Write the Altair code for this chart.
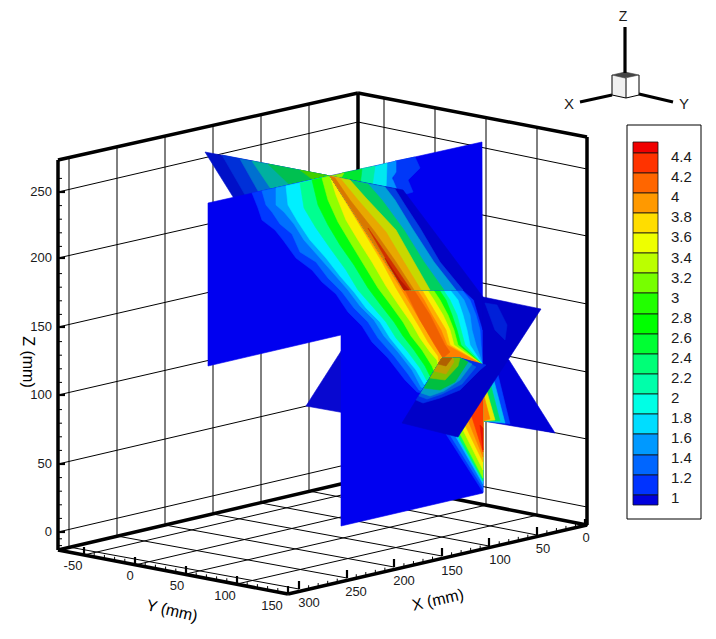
import altair as alt
import pandas as pd

# ---------- contour levels (legend) ----------
legend_labels = ["4.4","4.2","4","3.8","3.6","3.4","3.2","3","2.8","2.6","2.4","2.2","2","1.8","1.6","1.4","1.2","1"]
legend_label_y = [157,177,197,217,237,258,278,298,318,338,358,378,398,418,438,458,478,498]
legend_edges = [142,153,173,193,213,233,253,273,293,314,334,354,374,394,414,434,455,475,495,505]
legend_colors = ["#F00000","#FF3300","#FF6600","#FF9900","#FFDD00","#EEFF00","#BBFF00","#77FF00","#22FF00",
                 "#00FF00","#00FF33","#00FF77","#00FFAA","#00FFE5","#00DDFF","#0099FF","#0066FF","#0033FF","#0000DC"]

# ---------- axis readings ----------
z_ticks = ["0","50","100","150","200","250"]
z_left_y = [532,464,395,327,258,192]
z_back_y = [462,394,326,258,190,122]
z_right_y = [507,439,372,304,236,169]
y_tick_labels = ["-50","0","50","100","150"]
y_tick_x = [84,135,186,237,288]
y_tick_y = [555,565,574,584,594]
y_label_x = [73,130,177,225,272]
y_label_y = [566,576,586,596,606]
y_wall_x = [384,435,486,537,588]
x_tick_labels = ["0","50","100","150","200","250","300"]
x_tick_x = [585,537,489,442,394,347,299]
x_tick_y = [527,535,546,556,567,578,589]
x_label_x = [586,543,500,452,404,356,309]
x_label_y = [538,549,560,571,581,592,603]
x_foot_x = [358,309,261,213,165,117,69]
x_foot_y = [480,491,503,514,525,536,547]

BOX_THICK = [
    [(58,160),(358,93)], [(358,93),(587,137)], [(58,160),(58,550)], [(587,137),(587,525)],
    [(358,93),(358,480)], [(58,550),(358,480)], [(358,480),(587,525)], [(58,550),(288,594)], [(288,594),(587,525)],
]

# ---------- surfaces, painted back to front ----------
C = dict(a="#0038FF", b="#0070FF", c="#00A8FF", d="#00F0FF", e="#00FF90", f="#00FF10", g="#90FF00",
         h="#F8F000", i="#FFB000", j="#FF8000", k="#F06000", l="#FF3000", m="#E01000")
polys = []
polys += [("#0808D0", [(306,406),(345,345),(345,413)])]
polys += [("#0010C8", [(205,152),(330,176),(330,185),(240,208)]),
          ("#0030D8", [(222,155),(330,176),(330,185),(248,200)]),
          ("#0070D0", [(240,159),(330,176),(330,185),(262,198)]),
          ("#00B0A0", [(252,161),(330,176),(330,185),(275,195)]),
          ("#00C050", [(268,164),(330,176),(330,185),(295,190)]),
          ("#40D000", [(300,170),(330,176),(330,180),(320,185)])]
polys += [("#0000D8", [(483,350),(509,360),(555,433),(483,421)]),
          ("#0040FF", [(498,375),(510,424),(483,421),(483,380)]),
          ("#00C0F0", [(494,381),(505,423),(483,421),(483,386)]),
          ("#00E060", [(491,386),(500,421),(483,421),(483,390)]),
          ("#E8E800", [(487,392),(495,420),(483,421),(483,393)]),
          ("#FF8000", [(484,396),(490,419),(483,421)])]
# V1: stepped vertical plane
polys += [("#0000F0", [(208,203),(482,142),(483,493),(341,526),(341,335),(208,366)])]
# upper-right bands on V1
polys += [("#0038F8", [(395,161),(415,157),(420,168),(408,180),(413,192),(403,195),(392,190)]),
          ("#0090FF", [(385,164),(396,161),(396,172),(392,178),(398,192),(385,190)]),
          ("#00E8F0", [(372,167),(387,163),(386,190),(370,188)]),
          ("#00F0A0", [(360,169),(375,166),(372,188),(355,186)]),
          ("#00E830", [(342,173),(362,169),(360,186),(335,182)])]
polys += [("#90F000", [(330,176),(344,173),(340,180)])]

left = {
 "a": [(252,193),(258,208),(262,220),(275,230),(283,240),(296,258),(312,270),(322,282),(336,294),(348,312),(362,326),(372,342),(388,358),(405,380),(417,392)],
 "b": [(262,191),(266,205),(272,212),(280,224),(292,234),(300,252),(316,262),(328,278),(342,292),(354,308),(368,322),(378,338),(394,356),(408,374),(419,390)],
 "c": [(276,188),(276,205),(284,212),(294,224),(304,240),(320,258),(334,274),(348,290),(360,306),(374,320),(384,336),(398,352),(412,370),(421,387)],
 "d": [(286,186),(288,205),(298,222),(310,240),(326,258),(340,276),(354,292),(366,308),(380,322),(390,338),(403,354),(416,370),(424,384)],
 "e": [(300,183),(304,208),(316,228),(330,248),(346,270),(358,290),(372,306),(386,322),(396,338),(408,352),(420,368),(427,381)],
 "f": [(312,180),(318,205),(328,225),(340,245),(354,265),(368,288),(380,304),(394,322),(403,336),(414,350),(425,366),(430,376)],
 "g": [(322,178),(328,200),(338,222),(350,242),(364,265),(378,288),(390,304),(403,322),(411,336),(422,350),(432,366)],
 "h": [(330,176),(336,195),(346,220),(358,240),(372,262),(386,286),(398,304),(412,324),(420,338),(430,352),(437,360)],
 "i": [(382,262),(396,288),(408,308),(420,328),(428,342),(438,356)],
 "j": [(388,268),(402,290),(414,310),(426,330),(434,344),(443,358)],
}
right_rows = [285,300,315,330,345]
right = {
 "a": [462,474,480,483,484], "b": [458,470,476,480,481], "c": [452,464,470,472,476],
 "d": [446,458,463,467,470], "e": [440,450,457,461,465], "f": [436,446,452,457,461],
 "g": [430,440,448,454,458], "h": [424,434,443,450,454], "i": [419,428,437,446,450],
 "j": [414,424,432,441,447],
}
for key in "abcdefghij":
    pts = list(left[key]) + [(445,398),(483,365)]
    pts += [(x, y) for x, y in reversed(list(zip(right[key], right_rows)))]
    pts += [(400,285),(330,176)]
    polys.append((C[key], pts))
polys.append((C["k"], [(405,290),(414,290),(430,315),(445,345),(450,352),(443,358),(435,345),(420,320)]))

# lower stripe on V1
lower = [("#0038FF",(446,434),(483,492)),("#0070FF",(450,435),(483,488)),("#00C8FF",(456,437),(483,484)),
         ("#00FF60",(458,436),(483,481)),("#90FF00",(460,434),(483,478)),("#F8F000",(463,430),(483,470)),
         ("#FFB000",(465,425),(483,462)),("#FF8000",(468,420),(483,457)),("#FF3800",(471,414),(483,452))]
for col, p, q in lower:
    polys.append((col, [p, q, (483,398)]))
polys.append(("#E81000", [(480,425),(483,428),(483,450)]))

# oblique plane wedge in front of V1 (darker shading)
polys += [("#0000C8", [(330,176),(403,190),(483,297),(483,330),(474,300),(463,290),(404,290)]),
          ("#0040E0", [(330,176),(395,189),(405,205),(420,228),(440,262),(463,290),(404,290)]),
          ("#00A0D8", [(330,176),(385,187),(395,200),(412,228),(434,262),(456,290),(404,290)]),
          ("#00D060", [(330,176),(368,184),(382,200),(404,230),(424,262),(444,290),(404,290)]),
          ("#C8D800", [(330,176),(350,180),(366,198),(396,230),(414,262),(430,290),(404,290)]),
          ("#E8A800", [(330,176),(340,178),(358,200),(386,232),(404,262),(421,290),(404,290)]),
          ("#D87800", [(330,176),(335,178),(350,200),(375,232),(396,262),(414,290),(404,290)]),
          ("#D03000", [(368,228),(380,245),(396,268),(411,290),(404,290)]),
          ("#B81800", [(385,258),(400,280),(409,290),(404,290),(388,264)])]

# horizontal plane, front part and arcs
polys += [("#0000C8", [(402,423),(458,437),(541,309),(483,297),(483,365),(460,358),(442,358)]),
          ("#0020D8", [(485,303),(497,305),(507,325),(505,340),(495,330)]),
          ("#0030E8", [(416,400),(423,403),(440,398),(460,390),(480,370),(486,365),(460,358),(442,358)]),
          ("#0060E0", [(419,396),(427,399),(442,394),(462,384),(476,367),(460,358),(442,358)]),
          ("#00A0C8", [(421,393),(430,396),(444,391),(460,380),(472,364),(460,358),(442,358)]),
          ("#00C040", [(424,388),(440,390),(455,382),(468,362),(460,358),(442,358)]),
          ("#80C000", [(430,378),(445,380),(458,366),(460,358),(442,358)]),
          ("#C0A000", [(434,371),(446,374),(454,362),(453,358),(442,358)]),
          ("#B06000", [(438,364),(446,366),(452,358),(442,358)])]

# ---------- compass ----------
cube_faces = [("#F0F0F0", [(612,75),(626,78),(626,98),(612,95)]),
              ("#FFFFFF", [(626,78),(639,75),(639,95),(626,98)]),
              ("#444444", [(612,75),(625,72),(639,75),(625,78)])]
compass_thick = [[(625,27),(625,73)], [(580,102),(612,95)], [(639,94),(673,102)]]
compass_thin = [[(612,75),(612,95),(626,98),(639,95),(639,75)], [(626,78),(626,98)]]

# ---------- assemble tables ----------
X = alt.X("x:Q", scale=alt.Scale(domain=[8,708]), axis=None)
Y = alt.Y("y:Q", scale=alt.Scale(domain=[8,631], reverse=True), axis=None)

def seg_df(segs):
    rows = []
    for i, s in enumerate(segs):
        for j, (x, y) in enumerate(s):
            rows.append(dict(id=i, o=j, x=x, y=y))
    return pd.DataFrame(rows)

def line_layer(segs, width, color="#000000"):
    return alt.Chart(seg_df(segs)).mark_line(color=color, strokeWidth=width, clip=False, strokeCap="butt").encode(
        x=X, y=Y, detail="id:N", order="o:Q")

def poly_layer(items):
    rows = []
    for i, (c, pts) in enumerate(items):
        for j, (x, y) in enumerate(list(pts) + [pts[0]]):
            rows.append(dict(id=f"{i:03d}", o=j, x=x, y=y, c=c))
    return alt.Chart(pd.DataFrame(rows)).mark_line(strokeWidth=0.6).encode(
        x=X, y=Y, detail="id:N", order="o:Q",
        fill=alt.Fill("c:N", scale=None), stroke=alt.Stroke("c:N", scale=None))

def text_layer(items, size, align="center", angle=0, color="#1a1a1a", weight="normal"):
    df = pd.DataFrame(items, columns=["t","x","y"])
    return alt.Chart(df).mark_text(font="Liberation Sans", fontSize=size, align=align, baseline="middle",
                                   angle=angle, color=color, fontWeight=weight).encode(x=X, y=Y, text="t:N")

grid = []
for yl, yb, yr in zip(z_left_y, z_back_y, z_right_y):
    grid.append([(58,yl),(358,yb)])
    grid.append([(358,yb),(587,yr)])
for fx, fy in zip(x_foot_x[1:], x_foot_y[1:]):
    grid.append([(fx,fy),(fx, 160-(fx-58)*67/300)])
for wx in y_wall_x[:-1]:
    grid.append([(wx, 480+(wx-358)*45/229),(wx, 93+(wx-358)*44/229)])
for tx, ty, wx in zip(y_tick_x, y_tick_y, y_wall_x):
    grid.append([(tx,ty),(wx, 480+(wx-358)*45/229)])
for fx, fy, tx, ty in zip(x_foot_x[1:], x_foot_y[1:], x_tick_x[1:], x_tick_y[1:]):
    grid.append([(fx,fy),(tx,ty)])

major, minor = [], []
for yl in z_left_y:
    major.append([(58,yl),(65,yl)])
for k in range(0, 27):
    yy = 532 - k*13.6
    if k % 5:
        minor.append([(58,yy),(62,yy)])
    if k < 3 and k > 0:
        minor.append([(58,532+k*6.8),(62,532+k*6.8)])
for tx, ty in zip(y_tick_x, y_tick_y):
    major.append([(tx,ty),(tx,ty-8)])
for k in range(0, 20):
    if k % 5:
        xx = 84 + k*10.2
        yy = 550 + (xx-58)*44/230
        minor.append([(xx,yy),(xx,yy-4)])
for tx, ty in zip(x_tick_x, x_tick_y):
    major.append([(tx,ty),(tx,ty-8)])
for k in range(0, 30):
    if k % 5:
        xx = 585 - k*9.53
        yy = 525 + (587-xx)*69/299
        minor.append([(xx,yy),(xx,yy-4)])

legend_rects = pd.DataFrame(dict(x=[633]*19, x2=[658]*19, y=legend_edges[:-1], y2=legend_edges[1:], c=legend_colors))
legend_box = pd.DataFrame(dict(x=[627], x2=[701], y=[125], y2=[519]))

layers = [
    line_layer(grid, 1),
    line_layer(minor, 1),
    line_layer(major, 2.2),
    line_layer(BOX_THICK, 3.5),
    poly_layer(polys),
    poly_layer(cube_faces),
    line_layer(compass_thick, 3.2),
    line_layer(compass_thin, 1),
    alt.Chart(legend_box).mark_rect(fill="white", stroke="black", strokeWidth=1).encode(x=X, x2="x2:Q", y=Y, y2="y2:Q"),
    alt.Chart(legend_rects).mark_rect(stroke="#111111", strokeWidth=0.8).encode(
        x=X, x2="x2:Q", y=Y, y2="y2:Q", fill=alt.Fill("c:N", scale=None)),
    text_layer(list(zip(legend_labels, [671]*18, legend_label_y)), 15, align="left"),
    text_layer(list(zip(z_ticks, [52]*6, z_left_y)), 13, align="right"),
    text_layer(list(zip(y_tick_labels, y_label_x, y_label_y)), 13),
    text_layer(list(zip(x_tick_labels, x_label_x, x_label_y)), 13),
    text_layer([("Y (mm)",172,611)], 16, angle=13, color="#000000"),
    text_layer([("X (mm)",438,600)], 16, angle=347, color="#000000"),
    text_layer([("Z (mm)",28,362)], 16, angle=90, color="#000000"),
    text_layer([("Z",623,17)], 14),
    text_layer([("X",569,104),("Y",684,104)], 15),
]

chart = alt.layer(*layers).properties(width=700, height=623, padding=0, autosize=alt.AutoSizeParams(type="none"),
                                      background="white").configure_view(stroke=None)
chart.save("out.html", embed_options={"renderer": "svg", "actions": False})
